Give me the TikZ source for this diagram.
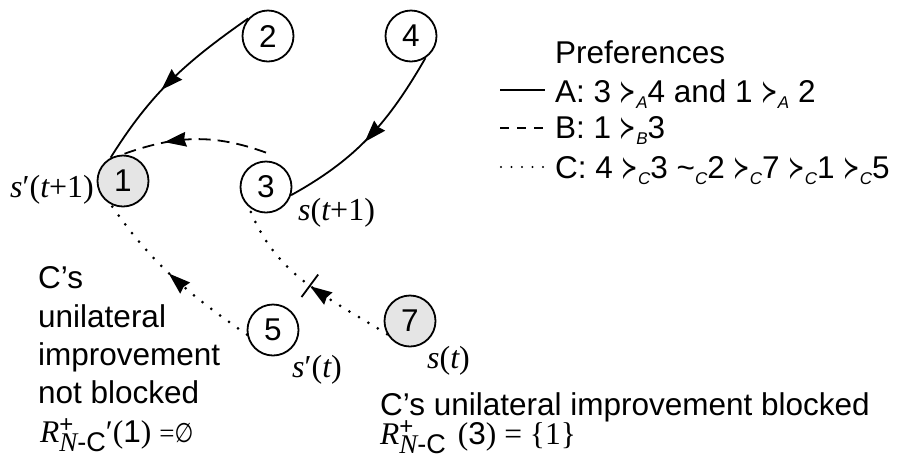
\documentclass[tikz,border=0pt]{standalone}
\usepackage{fontspec}
\setmainfont{Liberation Sans}
\newfontfamily\serif{Liberation Serif}
\newfontfamily\dejavu{DejaVu Sans}
\usepackage{graphicx}
\usetikzlibrary{decorations.markings}

\newcommand\pr[1]{\scalebox{0.62}[1]{\dejavu ≻}\raisebox{-6pt}{\fontsize{17}{17}\selectfont\itshape #1}}
\newcommand\eqc[1]{\textasciitilde\raisebox{-6pt}{\fontsize{17}{17}\selectfont\itshape #1}}
\newcommand\Rnc{{\serif\itshape R}\rlap{\raisebox{10pt}{\fontsize{24}{24}\selectfont +}}\raisebox{-9pt}{\fontsize{27}{27}\selectfont{\serif\itshape N}-C}}
\newcommand\emptyglyph{\scalebox{0.8}[1]{\fontsize{27}{27}\selectfont\dejavu ∅}}

\tikzset{
  state/.style={circle,draw,line width=1.8pt,minimum size=51pt,inner sep=0pt,font=\fontsize{31.5}{31.5}\selectfont},
  hl/.style={fill=black!10},
  lbl/.style={font=\fontsize{32}{32}\selectfont\serif,inner sep=0pt,anchor=base west},
  txt/.style={font=\fontsize{31.5}{31.5}\selectfont,inner sep=0pt,anchor=base west},
  conn/.style={line width=1.8pt},
  dashedc/.style={line width=1.8pt,dash pattern=on 12pt off 7pt},
  dottedc/.style={line width=3pt,line cap=round,dash pattern=on 0pt off 11pt},
  midarrow/.style={postaction={decorate,decoration={markings,mark=at position #1 with {\fill[solid] (12pt,0) -- (-10pt,7.5pt) -- (-8pt,0) -- (-10pt,-7.5pt) -- cycle;}}}},
  blockbar/.style={postaction={decorate,decoration={markings,mark=at position #1 with {\draw[solid,line width=1.8pt,line cap=butt] (0,-14pt) -- (0,14pt);}}}}
}

\begin{document}
\begin{tikzpicture}[x=1pt,y=1pt]
\useasboundingbox (0,0) rectangle (909,-467);

% states
\node[state] (n2) at (268,-36) {2};
\node[state] (n4) at (411,-36) {4};
\node[state,hl] (n1) at (123,-181) {1};
\node[state] (n3) at (266,-187) {3};
\node[state] (n5) at (273,-330) {5};
\node[state,hl] (n7) at (410,-321) {7};

% connectors
\draw[conn,midarrow=0.51] (n2.138) to[out=215,in=58] (n1.118);
\draw[conn,midarrow=0.47] (n4.-57) to[out=240,in=29] (n3.-18);
\coordinate (c3) at ([yshift=8pt]n3.north);
\draw[dashedc,midarrow=0.62] (c3) to[out=160,in=20] (n1.92);
\draw[dottedc,midarrow=0.46] (n5.190) to[out=145,in=-55] (n1.242);
\draw[dottedc,midarrow=0.41,blockbar=0.475] (n7.210) to[out=148,in=-69] (n3.230);

% state labels
\node[lbl] (l1) at (10,-197) {\itshape s\upshape′(\itshape t\upshape+1)};
\node[lbl] (l3) at (298,-220) {\itshape s\upshape(\itshape t\upshape+1)};
\node[lbl] (l5) at (292,-377) {\itshape s\upshape′(\itshape t\upshape)};
\node[lbl] (l7) at (427,-368) {\itshape s\upshape(\itshape t\upshape)};

% left text
\node[txt] (t1) at (38,-288) {C’s};
\node[txt] (t2) at (38,-327) {unilateral};
\node[txt] (t3) at (38,-365) {improvement};
\node[txt] (t4) at (38,-403) {not blocked};
\node[txt] (t5) at (40,-442) {\Rnc{\serif′(}1{\serif)}\hspace{8pt}{\serif\fontsize{27}{27}\selectfont=}\emptyglyph};

% bottom text
\node[txt] (b1) at (380,-415) {C’s unilateral improvement blocked};
\node[txt] (b2) at (380,-444) {\Rnc\hspace{12pt}{\serif(}3{\serif) = \{1\}}};

% legend
\node[txt] (pt) at (555,-63) {Preferences};
\coordinate (la0) at (500,-90); \coordinate (la1) at (545,-90);
\draw[conn] (la0) -- (la1);
\node[txt] (pa) at (555,-102) {A: 3 \pr{A}4 and 1 \pr{A} 2};
\coordinate (lb0) at (500,-128); \coordinate (lb1) at (545,-128);
\draw[line width=1.8pt,dash pattern=on 9pt off 8pt] (lb0) -- (lb1);
\node[txt] (pb) at (555,-138) {B: 1 \pr{B}3};
\coordinate (lc0) at (501,-167); \coordinate (lc1) at (545,-167);
\draw[line width=2.4pt,line cap=round,dash pattern=on 0pt off 10.5pt] (lc0) -- (lc1);
\node[txt] (pc) at (555,-178) {C: 4 \pr{C}3 \eqc{C}2 \pr{C}7 \pr{C}1 \pr{C}5};
\end{tikzpicture}
\end{document}
